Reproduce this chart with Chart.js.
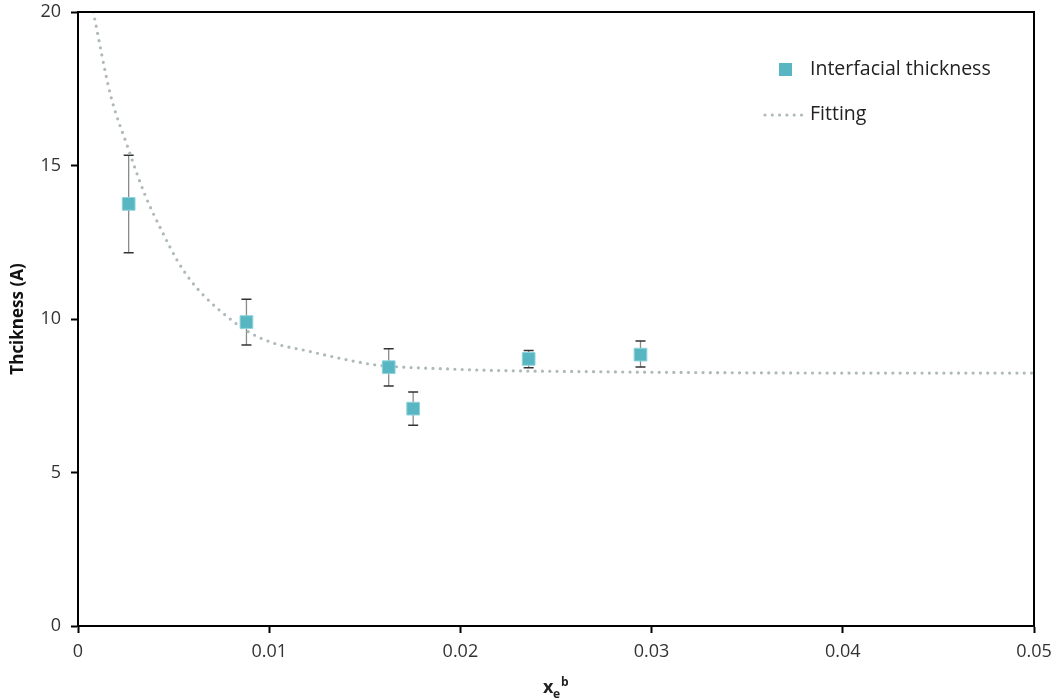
<!DOCTYPE html>
<html>
<head>
<meta charset="utf-8">
<script src="https://cdn.jsdelivr.net/npm/chart.js@4"></script>
<style>
  html, body { margin: 0; padding: 0; background: #fff; }
  #wrap { width: 1057px; height: 700px; }
</style>
</head>
<body>
<div id="wrap"><canvas id="thicknessChart" width="1057" height="700"></canvas></div>
<script>
// measured points
const xVals = [0.00265, 0.00881, 0.01625, 0.01753, 0.02357, 0.02942];
const thickness = [13.75, 9.9, 8.43, 7.08, 8.7, 8.84];
const errHigh = [15.33, 10.64, 9.03, 7.62, 8.97, 9.28];
const errLow = [12.16, 9.15, 7.82, 6.54, 8.41, 8.44];

// fitting curve
const fitX = [0.0008, 0.0017, 0.0026, 0.0035, 0.0044, 0.0052, 0.0059, 0.0066, 0.0081, 0.009,
  0.0102, 0.012, 0.014, 0.0156, 0.0168, 0.019, 0.022, 0.026, 0.0312, 0.04, 0.05];
const fitY = [20.0, 17.3, 15.6, 14.05, 12.85, 11.9, 11.25, 10.75, 9.93, 9.55,
  9.22, 8.96, 8.68, 8.5, 8.44, 8.38, 8.32, 8.29, 8.26, 8.24, 8.24];

const xTicks = [0, 0.01, 0.02, 0.03, 0.04, 0.05];
const yTicks = [0, 5, 10, 15, 20];

const pointColor = "#57b6c2";
const fitColor = "#aeb9b9";
const font = "'Open Sans', sans-serif";

const extras = {
  id: "extras",
  beforeDatasetsDraw(chart) {
    const { ctx, scales } = chart;
    ctx.save();
    xVals.forEach((x, i) => {
      const px = scales.x.getPixelForValue(x);
      const top = scales.y.getPixelForValue(errHigh[i]);
      const bot = scales.y.getPixelForValue(errLow[i]);
      ctx.strokeStyle = "#8a8a8a";
      ctx.lineWidth = 1.3;
      ctx.beginPath();
      ctx.moveTo(px, top);
      ctx.lineTo(px, bot);
      ctx.stroke();
      ctx.strokeStyle = "#333";
      ctx.lineWidth = 1.5;
      ctx.beginPath();
      ctx.moveTo(px - 5, top);
      ctx.lineTo(px + 5, top);
      ctx.moveTo(px - 5, bot);
      ctx.lineTo(px + 5, bot);
      ctx.stroke();
    });
    ctx.restore();
  },
  afterDraw(chart) {
    const { ctx, chartArea } = chart;
    ctx.save();
    // frame
    ctx.strokeStyle = "#000";
    ctx.lineWidth = 2;
    ctx.strokeRect(chartArea.left, chartArea.top, chartArea.right - chartArea.left, chartArea.bottom - chartArea.top);

    // legend
    const ds = chart.data.datasets;
    ctx.fillStyle = pointColor;
    ctx.fillRect(779, 63, 13, 13);
    ctx.strokeStyle = fitColor;
    ctx.lineWidth = 3.2;
    ctx.lineCap = "round";
    ctx.setLineDash([0, 7.3]);
    ctx.beginPath();
    ctx.moveTo(765, 115);
    ctx.lineTo(805, 115);
    ctx.stroke();
    ctx.setLineDash([]);
    ctx.fillStyle = "#222";
    ctx.font = "19.5px " + font;
    ctx.textBaseline = "middle";
    ctx.textAlign = "left";
    ctx.fillText(ds[0].label, 810, 69);
    ctx.fillText(ds[1].label, 810, 114);

    // x axis title: x_e^b
    ctx.font = "bold 18px " + font;
    ctx.textBaseline = "alphabetic";
    ctx.fillText("x", 543, 693);
    ctx.font = "bold 12px " + font;
    ctx.fillText("e", 553, 698);
    ctx.fillText("b", 561, 686);
    ctx.restore();
  },
};

new Chart(document.getElementById("thicknessChart"), {
  type: "scatter",
  data: {
    datasets: [
      {
        label: "Interfacial thickness",
        data: xVals.map((x, i) => ({ x: x, y: thickness[i] })),
        pointStyle: "rect",
        pointRadius: 9,
        pointHoverRadius: 9,
        backgroundColor: pointColor,
        borderColor: "#8fd3db",
        borderWidth: 1,
        order: 1,
      },
      {
        label: "Fitting",
        type: "line",
        data: fitX.map((x, i) => ({ x: x, y: fitY[i] })),
        borderColor: fitColor,
        borderWidth: 3.2,
        borderDash: [0, 7.3],
        borderCapStyle: "round",
        pointRadius: 0,
        fill: false,
        cubicInterpolationMode: "monotone",
        order: 2,
      },
    ],
  },
  options: {
    responsive: false,
    animation: false,
    layout: { padding: { top: 12, right: 23, left: 0, bottom: 0 } },
    plugins: {
      legend: { display: false },
      tooltip: { enabled: false },
    },
    scales: {
      x: {
        type: "linear",
        min: 0,
        max: 0.05,
        afterBuildTicks: (s) => { s.ticks = xTicks.map((v) => ({ value: v })); },
        afterFit: (s) => { s.height = 74; s.paddingLeft = 0; s.paddingRight = 0; },
        grid: { display: true, drawOnChartArea: false, drawTicks: true, tickLength: 7, color: "#000", tickWidth: 2 },
        border: { display: true, color: "#000", width: 2 },
        ticks: {
          color: "#333",
          font: { family: font, size: 18 },
          padding: 8,
          maxRotation: 0,
          callback: (v) => String(v),
        },
      },
      y: {
        type: "linear",
        min: 0,
        max: 20,
        afterBuildTicks: (s) => { s.ticks = yTicks.map((v) => ({ value: v })); },
        afterFit: (s) => { s.width = 78; s.paddingTop = 0; s.paddingBottom = 0; },
        grid: { display: true, drawOnChartArea: false, drawTicks: true, tickLength: 7, color: "#000", tickWidth: 2 },
        border: { display: true, color: "#000", width: 2 },
        title: {
          display: true,
          text: "Thcikness (A)",
          color: "#111",
          font: { family: font, size: 17, weight: "bold" },
          padding: { top: 8, bottom: 2 },
        },
        ticks: {
          color: "#333",
          font: { family: font, size: 18 },
          padding: 10,
        },
      },
    },
  },
  plugins: [extras],
});
</script>
</body>
</html>
